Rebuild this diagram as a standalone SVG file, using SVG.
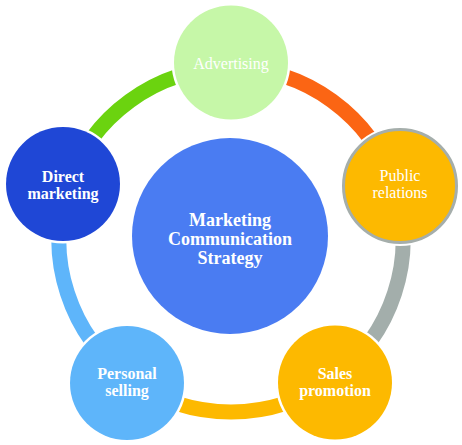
<svg xmlns="http://www.w3.org/2000/svg" width="462" height="445" viewBox="0 0 462 445">
<style>
.arc{fill:none;stroke-width:15;stroke-linecap:butt}
.halo{fill:#ffffff}
text{font-family:'Liberation Serif','Times New Roman','DejaVu Serif',serif;fill:#ffffff;text-anchor:middle}
.lbl{font-size:16px}
.b{font-weight:bold}
.ctr{font-size:18px;font-weight:bold}
</style>
<rect width="462" height="445" fill="#ffffff"/>
<g id="connectors">
<path class="arc" stroke="#fb6514" d="M231,68 A172,172 0 0 1 394.58,186.85"/>
<path class="arc" stroke="#a3aeab" d="M394.58,186.85 A172,172 0 0 1 332.10,379.15"/>
<path class="arc" stroke="#fdb900" d="M332.10,379.15 A172,172 0 0 1 129.90,379.15"/>
<path class="arc" stroke="#5eb5fa" d="M129.90,379.15 A172,172 0 0 1 67.42,186.85"/>
<path class="arc" stroke="#6bd30f" d="M67.42,186.85 A172,172 0 0 1 231,68"/>
</g>
<g id="center">
<circle cx="230" cy="236" r="98" fill="#4a7cf2"/>
<text class="ctr" x="230" y="226" font-family="Liberation Serif, serif">Marketing</text>
<text class="ctr" x="230" y="245" font-family="Liberation Serif, serif">Communication</text>
<text class="ctr" x="230" y="263.5" font-family="Liberation Serif, serif">Strategy</text>
</g>
<g id="advertising">
<circle class="halo" cx="231" cy="62.5" r="59.5"/>
<circle cx="231" cy="62.5" r="57" fill="#c6f7a8"/>
<text class="lbl" x="231" y="68.5">Advertising</text>
</g>
<g id="public-relations">
<circle class="halo" cx="400" cy="186" r="60"/>
<circle cx="400" cy="186" r="56.5" fill="#fdb900" stroke="#a5aeab" stroke-width="3"/>
<text class="lbl" x="400" y="181">Public</text>
<text class="lbl" x="400" y="198">relations</text>
</g>
<g id="sales-promotion">
<circle class="halo" cx="335" cy="382.5" r="59.5"/>
<circle cx="335" cy="382.5" r="57" fill="#fdb900"/>
<text class="lbl b" x="335" y="379">Sales</text>
<text class="lbl b" x="335" y="396">promotion</text>
</g>
<g id="personal-selling">
<circle class="halo" cx="127" cy="383" r="59.5"/>
<circle cx="127" cy="383" r="57" fill="#5eb5fa"/>
<text class="lbl b" x="127" y="379">Personal</text>
<text class="lbl b" x="127" y="396">selling</text>
</g>
<g id="direct-marketing">
<circle class="halo" cx="63" cy="184" r="59.5"/>
<circle cx="63" cy="184" r="57" fill="#1f47d6"/>
<text class="lbl b" x="63" y="181.5">Direct</text>
<text class="lbl b" x="63" y="198.5">marketing</text>
</g>
</svg>
